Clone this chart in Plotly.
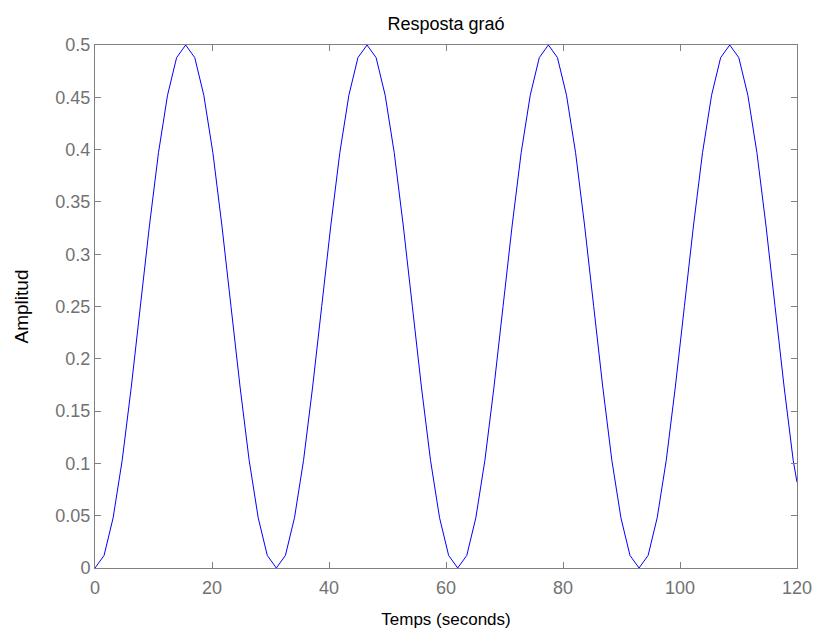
import plotly.graph_objects as go

time_s = [0, 1.55, 3.1, 4.65, 6.2, 7.75, 9.3, 10.85, 12.4, 13.95,
          15.5, 17.05, 18.6, 20.15, 21.7, 23.25, 24.8, 26.35, 27.9, 29.45,
          31.0, 32.55, 34.1, 35.65, 37.2, 38.75, 40.3, 41.85, 43.4, 44.95,
          46.5, 48.05, 49.6, 51.15, 52.7, 54.25, 55.8, 57.35, 58.9, 60.45,
          62.0, 63.55, 65.1, 66.65, 68.2, 69.75, 71.3, 72.85, 74.4, 75.95,
          77.5, 79.05, 80.6, 82.15, 83.7, 85.25, 86.8, 88.35, 89.9, 91.45,
          93.0, 94.55, 96.1, 97.65, 99.2, 100.75, 102.3, 103.85, 105.4, 106.95,
          108.5, 110.05, 111.6, 113.15, 114.7, 116.25, 117.8, 119.35, 120.0]

amplitude = [0, 0.012, 0.048, 0.103, 0.173, 0.25, 0.327, 0.397, 0.452, 0.488,
             0.5, 0.488, 0.452, 0.397, 0.327, 0.25, 0.173, 0.103, 0.048, 0.012,
             0, 0.012, 0.048, 0.103, 0.173, 0.25, 0.327, 0.397, 0.452, 0.488,
             0.5, 0.488, 0.452, 0.397, 0.327, 0.25, 0.173, 0.103, 0.048, 0.012,
             0, 0.012, 0.048, 0.103, 0.173, 0.25, 0.327, 0.397, 0.452, 0.488,
             0.5, 0.488, 0.452, 0.397, 0.327, 0.25, 0.173, 0.103, 0.048, 0.012,
             0, 0.012, 0.048, 0.103, 0.173, 0.25, 0.327, 0.397, 0.452, 0.488,
             0.5, 0.488, 0.452, 0.397, 0.327, 0.25, 0.173, 0.103, 0.082]

x_ticks = [0, 20, 40, 60, 80, 100, 120]
x_tick_labels = ["0", "20", "40", "60", "80", "100", "120"]
y_ticks = [0, 0.05, 0.1, 0.15, 0.2, 0.25, 0.3, 0.35, 0.4, 0.45, 0.5]
y_tick_labels = ["0", "0.05", "0.1", "0.15", "0.2", "0.25", "0.3", "0.35", "0.4", "0.45", "0.5"]

FONT = "Liberation Sans, Arial"

fig = go.Figure()
fig.add_trace(go.Scatter(x=time_s, y=amplitude, mode="lines",
                         line=dict(color="#0000ff", width=1), showlegend=False))

axis_common = dict(showline=True, linecolor="#808080", linewidth=1,
                   mirror="ticks", ticks="inside", ticklen=6, tickwidth=1,
                   tickcolor="#808080", showgrid=False, zeroline=False,
                   automargin=False,
                   tickfont=dict(family=FONT, size=18, color="#727272"))

fig.update_xaxes(range=[0, 120], tickmode="array", tickvals=x_ticks, ticktext=x_tick_labels,
                 ticklabelstandoff=3,
                 title=dict(text="Temps (seconds)", standoff=16,
                            font=dict(family=FONT, size=17, color="#000000")),
                 **axis_common)
fig.update_yaxes(range=[0, 0.5], tickmode="array", tickvals=y_ticks, ticktext=y_tick_labels,
                 title=dict(text="Amplitud", standoff=21,
                            font=dict(family=FONT, size=19, color="#000000")),
                 **axis_common)

fig.update_layout(
    width=813, height=632,
    margin=dict(l=95, r=16, t=45, b=64),
    paper_bgcolor="white", plot_bgcolor="white",
    title=dict(text="Resposta graó", x=0.5, xanchor="center", y=1 - 24 / 632, yanchor="middle",
               xref="paper",
               font=dict(family=FONT, size=18, color="#000000")),
)

fig.write_html("out.html", config={"displayModeBar": False},
               post_script="document.body.style.margin='0px';document.body.style.overflow='hidden';")
